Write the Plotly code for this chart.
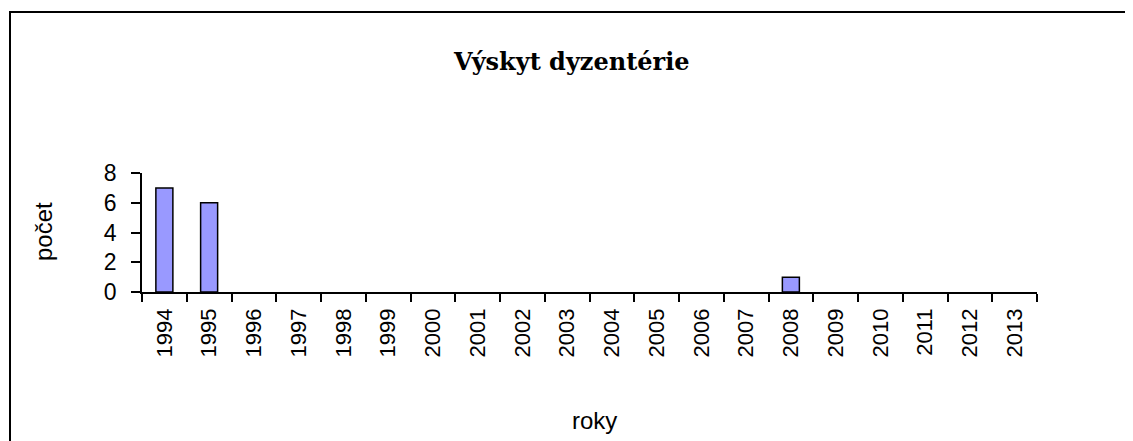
import plotly.graph_objects as go

years = [str(y) for y in range(1994, 2014)]
counts = [7, 6, 0, 0, 0, 0, 0, 0, 0, 0, 0, 0, 0, 0, 1, 0, 0, 0, 0, 0]
title_text = "Výskyt dyzentérie"
y_title = "počet"
x_title = "roky"

# page has an 8px body margin; work in reference coordinates and shift
OFF = 8
W, H = 1133 - OFF, 441 - OFF
L, R, T, B = 142 - OFF, 96, 173 - OFF, 149
pw, ph = W - L - R, H - T - B


def px(x):
    return (x - OFF - L) / pw


def py(y):
    return (H - B - (y - OFF)) / ph


fig = go.Figure(go.Bar(
    x=years, y=counts, width=0.38,
    marker=dict(color="#9999FF",
                line=dict(color="black", width=[1.5 if c > 0 else 0 for c in counts])),
))

fig.update_layout(
    width=W, height=H,
    margin=dict(l=L, r=R, t=T, b=B),
    paper_bgcolor="white", plot_bgcolor="white",
    showlegend=False,
    font=dict(family="Liberation Sans, Arial", size=22, color="black"),
    xaxis=dict(
        type="category", tickangle=-90, ticks="outside", ticklen=8,
        tickson="boundaries", showline=True, linecolor="black", linewidth=1.5,
        showgrid=False, tickcolor="black", tickwidth=1.5,
        tickfont=dict(size=22), ticklabelstandoff=6,
        range=[-0.5, 19.5],
    ),
    yaxis=dict(
        range=[0, 8], dtick=2, ticks="outside", ticklen=9, tickcolor="black",
        tickwidth=1.5, showline=True, linecolor="black", linewidth=1.5,
        showgrid=False, zeroline=False, tickfont=dict(size=23),
        ticklabelstandoff=10,
    ),
    shapes=[
        dict(type="line", xref="paper", yref="paper", x0=px(9), x1=px(1300),
             y0=py(12), y1=py(12), line=dict(color="black", width=2)),
        dict(type="line", xref="paper", yref="paper", x0=px(10), x1=px(10),
             y0=py(11), y1=py(600), line=dict(color="black", width=2)),
    ],
    annotations=[
        dict(text=f"<b>{title_text}</b>", xref="paper", yref="paper",
             x=px(571), y=py(61), xanchor="center", yanchor="middle",
             showarrow=False,
             font=dict(family="DejaVu Serif, Liberation Serif", size=24)),
        dict(text=y_title, xref="paper", yref="paper", x=px(43), y=py(232),
             xanchor="center", yanchor="middle",
             showarrow=False, textangle=-90, font=dict(size=24)),
        dict(text=x_title, xref="paper", yref="paper", x=px(594), y=py(420),
             xanchor="center", yanchor="middle",
             showarrow=False, font=dict(size=24)),
    ],
)

fig.write_html("out.html")
